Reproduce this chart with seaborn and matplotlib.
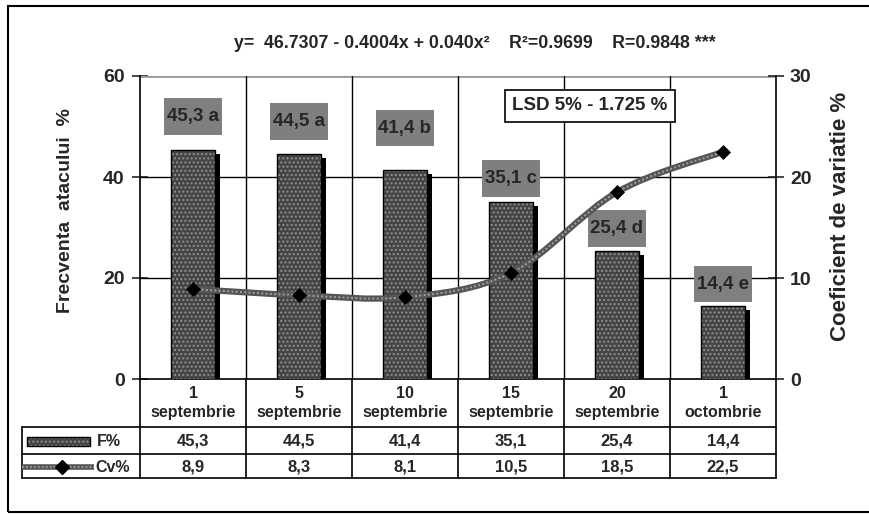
import matplotlib
matplotlib.use('Agg')
import matplotlib.pyplot as plt
import matplotlib.transforms as mtransforms
from matplotlib.path import Path
from matplotlib.patches import PathPatch, Rectangle
import seaborn as sns
import numpy as np
import pandas as pd

# ----------------------------------------------------------------------
# data
# ----------------------------------------------------------------------
dates = ["1\nseptembrie", "5\nseptembrie", "10\nseptembrie",
         "15\nseptembrie", "20\nseptembrie", "1\noctombrie"]
freq = [45.3, 44.5, 41.4, 35.1, 25.4, 14.4]
cv = [8.9, 8.3, 8.1, 10.5, 18.5, 22.5]
groups = ["a", "a", "b", "c", "d", "e"]

title_txt = "y=  46.7307 - 0.4004x + 0.040x\u00b2    R\u00b2=0.9699    R=0.9848 ***"
lsd_txt = "LSD 5% - 1.725 %"

# layout only: how far above each bar the letter box sits (in % units)
label_lift = [6.6, 6.5, 8.3, 4.6, 4.4, 4.4]


def comma(v):
    return f"{v:.1f}".replace(".", ",")


def smooth_path(xs, ys):
    # Excel-like smoothed line: cubic bezier segments through the points
    pts = np.column_stack([xs, ys]).astype(float)
    ext = np.vstack([pts[0], pts, pts[-1]])
    verts = [tuple(pts[0])]
    codes = [Path.MOVETO]
    for i in range(len(pts) - 1):
        p0, p1, p2, p3 = ext[i], ext[i + 1], ext[i + 2], ext[i + 3]
        c1 = p1 + (p2 - p0) / 6.0
        c2 = p2 - (p3 - p1) / 6.0
        verts += [tuple(c1), tuple(c2), tuple(p2)]
        codes += [Path.CURVE4] * 3
    return Path(verts, codes)


def main():
    sns.set_style("white")
    plt.rcParams["font.family"] = ["Liberation Sans", "DejaVu Sans"]
    plt.rcParams["font.weight"] = "bold"
    plt.rcParams["hatch.linewidth"] = 1.0

    df = pd.DataFrame({"date": dates, "F": freq, "Cv": cv})
    xpos = np.arange(len(dates))

    W, H = 869, 515
    fig = plt.figure(figsize=(W / 100, H / 100), dpi=100)
    ax = fig.add_axes([140 / W, 1 - 379 / H, 636 / W, 303 / H])

    # shadow bars (shifted right/down a few pixels)
    sns.barplot(data=df, x="date", y="F", color="black", width=0.42,
                saturation=1, linewidth=0, ax=ax, zorder=2)
    shift = mtransforms.offset_copy(ax.transData, fig=fig, x=5, y=-4, units="dots")
    for p in ax.patches:
        p.set_transform(shift)

    # textured bar fill, then a black outline
    sns.barplot(data=df, x="date", y="F", color="#444444", width=0.42,
                saturation=1, edgecolor="#909090", linewidth=0, hatch="....",
                ax=ax, zorder=3)
    sns.barplot(data=df, x="date", y="F", fill=False, width=0.42,
                edgecolor="black", linewidth=1, ax=ax, zorder=4)

    ax.set_xlim(-0.5, len(dates) - 0.5)
    ax.set_ylim(0, 60)
    ax.set_yticks([0, 20, 40, 60])
    ax.set_xticks([])
    ax.set_xlabel("")
    ax.set_ylabel("")
    for y in (20, 40):
        ax.axhline(y, color="black", lw=1, zorder=1)
    ax.axhline(60, color="#9a9a9a", lw=2, zorder=1)
    for k in range(len(dates) - 1):
        ax.axvline(k + 0.5, color="black", lw=1, zorder=1)
    for side in ("top", "right"):
        ax.spines[side].set_visible(False)
    for side in ("left", "bottom"):
        ax.spines[side].set_color("black")
        ax.spines[side].set_linewidth(1.2)
    ax.tick_params(axis="y", direction="inout", length=12, width=1.2,
                   labelsize=14, pad=5, left=True)

    # letter boxes above bars
    for i, (v, g) in enumerate(zip(freq, groups)):
        yc = v + label_lift[i]
        ax.add_patch(Rectangle((i - 0.275, yc - 3.65), 0.55, 7.3,
                               facecolor="#7f7f7f", edgecolor="none", zorder=5))
        ax.text(i, yc, f"{comma(v)} {g}", ha="center", va="center",
                fontsize=13.5, fontweight="bold", zorder=6)

    # coefficient of variation on the right axis
    ax2 = ax.twinx()
    ax2.set_ylim(0, 30)
    ax2.set_yticks([0, 10, 20, 30])
    path = smooth_path(xpos, cv)
    ax2.add_patch(PathPatch(path, fill=False, edgecolor="#555555", lw=4.5,
                            capstyle="round", zorder=7))
    ax2.add_patch(PathPatch(path, fill=False, edgecolor="#a0a0a0", lw=1.4,
                            linestyle=(0, (1, 1.2)), zorder=8))
    sns.scatterplot(x=xpos, y=cv, marker="D", color="black", s=50,
                    edgecolor="black", ax=ax2, zorder=9, legend=False)
    ax2.set_xlim(-0.5, len(dates) - 0.5)
    for side in ("top", "left", "bottom"):
        ax2.spines[side].set_visible(False)
    ax2.spines["right"].set_color("black")
    ax2.spines["right"].set_linewidth(1.2)
    ax2.tick_params(axis="y", direction="inout", length=12, width=1.2,
                    labelsize=14, pad=4, right=True)
    ax2.set_ylabel("")
    ax2.grid(False)
    ax.grid(False)

    # axis titles, equation, LSD box
    fig.text(66 / W, 1 - 211 / H, "Frecventa  atacului  %", rotation=90,
             ha="center", va="center", fontsize=14, fontweight="bold")
    fig.text(841 / W, 1 - 216 / H, "Coeficient de variatie %", rotation=90,
             ha="center", va="center", fontsize=16, fontweight="bold")
    fig.text(475 / W, 1 - 44 / H, title_txt, ha="center", va="center",
             fontsize=12.8, fontweight="bold")
    fig.text(590 / W, 1 - 106 / H, lsd_txt, ha="center", va="center",
             fontsize=13.5, fontweight="bold",
             bbox=dict(boxstyle="square,pad=0.4", facecolor="white",
                       edgecolor="black", lw=1.2))

    # ------------------------------------------------------------------
    # data table under the chart (y in pixel rows 379..478)
    # ------------------------------------------------------------------
    tab = fig.add_axes([140 / W, 1 - 478 / H, 636 / W, 99 / H])
    tab.set_xlim(-0.5, len(dates) - 0.5)
    tab.set_ylim(478, 379)
    tab.axis("off")
    xl = -1.613
    for k in range(len(dates) + 1):
        tab.plot([k - 0.5, k - 0.5], [379, 478], color="black", lw=1.2, clip_on=False)
    tab.plot([xl, xl], [427, 478], color="black", lw=1.2, clip_on=False)
    for y in (427, 454, 478):
        tab.plot([xl, len(dates) - 0.5], [y, y], color="black", lw=1.2, clip_on=False)

    for i in range(len(dates)):
        tab.text(i, 403, dates[i], ha="center", va="center", fontsize=11.5,
                 fontweight="bold", linespacing=1.3)
        tab.text(i, 441, comma(freq[i]), ha="center", va="center", fontsize=12,
                 fontweight="bold")
        tab.text(i, 467, comma(cv[i]), ha="center", va="center", fontsize=12,
                 fontweight="bold")

    # legend keys in the first column
    tab.add_patch(Rectangle((-1.566, 446), 0.594, -9, facecolor="#444444",
                            edgecolor="#909090", hatch="....", lw=0, clip_on=False))
    tab.add_patch(Rectangle((-1.566, 446), 0.594, -9, fill=False,
                            edgecolor="black", lw=1, clip_on=False))
    tab.text(-0.91, 441, "F%", ha="left", va="center", fontsize=11.5, fontweight="bold")
    tab.plot([xl, -0.93], [467, 467], color="#555555", lw=4, clip_on=False,
             solid_capstyle="butt")
    tab.plot([xl, -0.93], [467, 467], color="#a0a0a0", lw=1.3, clip_on=False,
             linestyle=(0, (1, 1.2)))
    tab.plot([-1.236], [467], marker="D", color="black", ms=7, clip_on=False)
    tab.text(-0.92, 468, "Cv%", ha="left", va="center", fontsize=11.5, fontweight="bold")

    # outer frame
    fig.add_artist(Rectangle((8 / W, 3 / H), 1.0, 1 - 9 / H, transform=fig.transFigure,
                             fill=False, edgecolor="black", lw=1.5))

    fig.savefig("out.png", dpi=100)
    plt.close(fig)


if __name__ == "__main__":
    main()
